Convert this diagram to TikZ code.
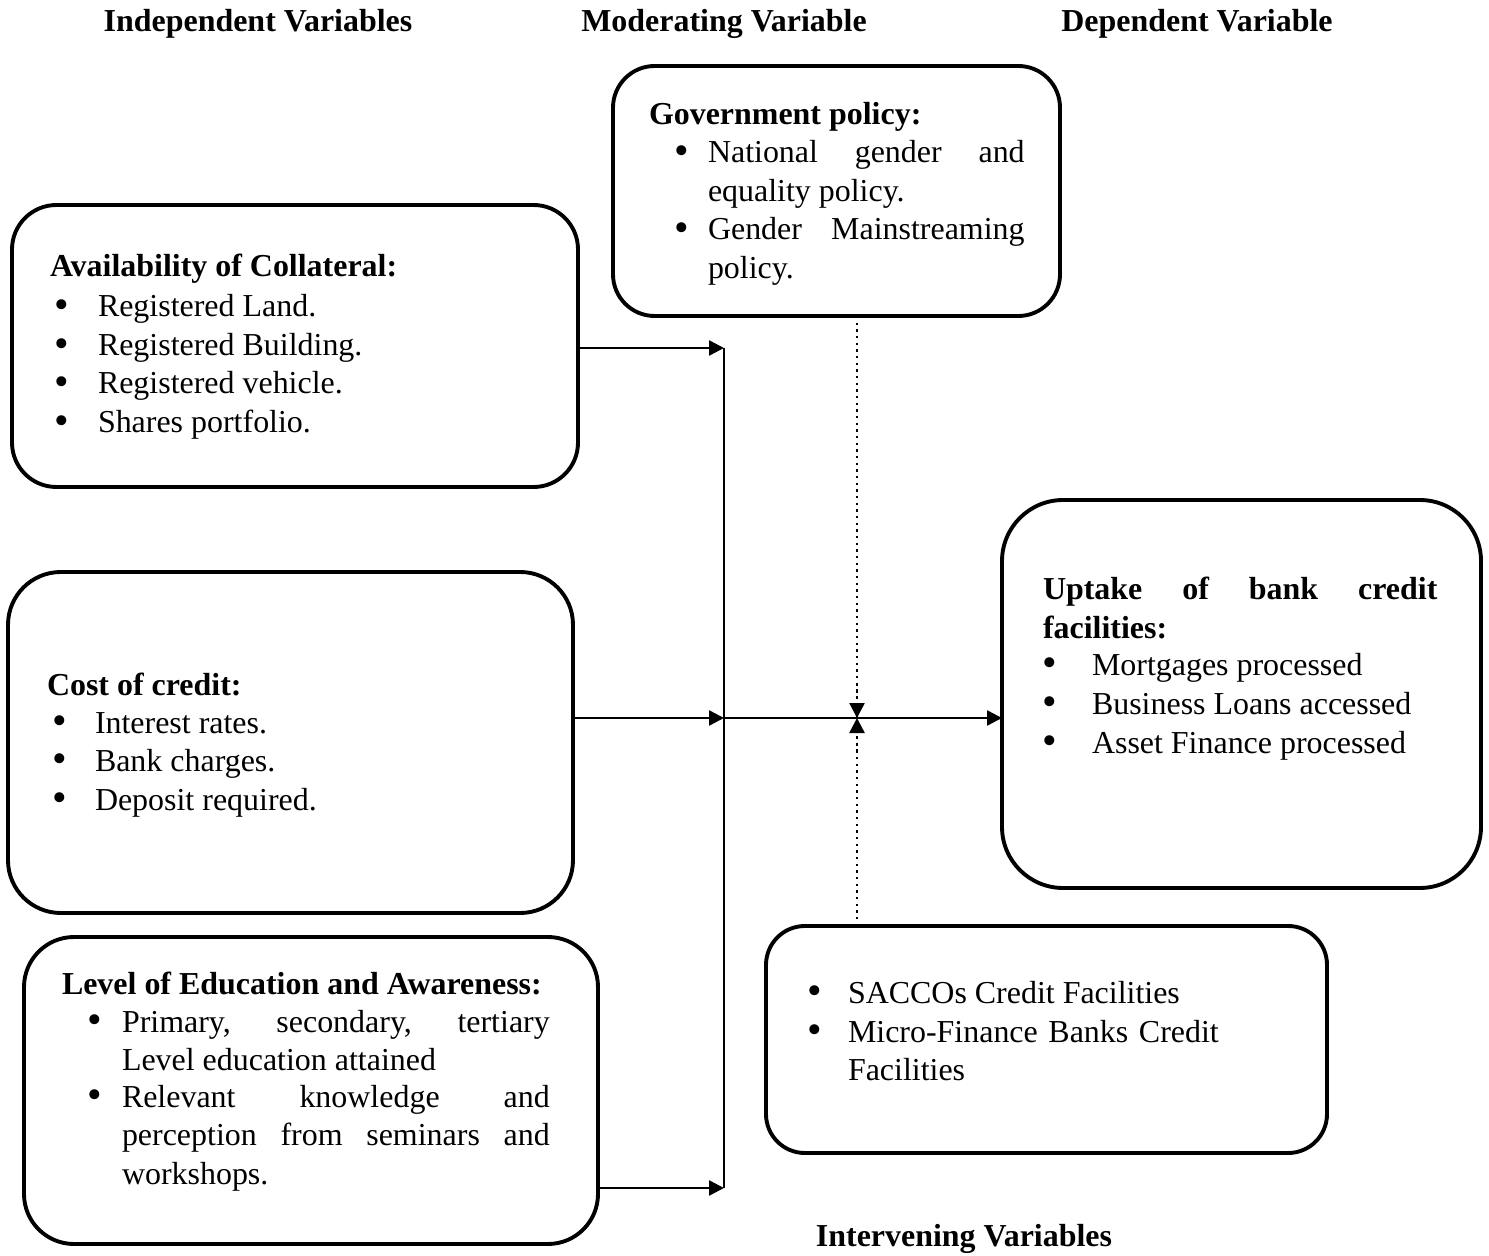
\documentclass[tikz,border=0pt]{standalone}
\usepackage{fontspec}
\setmainfont{Liberation Serif}
\usetikzlibrary{arrows.meta,fit}
\tolerance=10000
\hyphenpenalty=10000
\exhyphenpenalty=10000
\begin{document}
\begin{tikzpicture}[x=0.36pt,y=-0.36pt,
  every node/.style={inner sep=0pt,outer sep=0pt,font=\fontsize{11.5}{14}\selectfont},
  box/.style={draw,line width=1.4pt,inner sep=0pt},
  txt/.style={anchor=base west},
  hd/.style={anchor=base west,font=\fontsize{11.5}{14}\selectfont\bfseries},
  ttl/.style={anchor=base,font=\fontsize{11.5}{14}\selectfont\bfseries},
  bul/.style={anchor=base,font=\fontsize{15}{14}\selectfont,text height=6pt,text depth=0pt,yshift=-0.4pt},
  jus/.style={anchor=base west,align=justify},
  arr/.style={line width=0.9pt,-{Triangle[length=5.4pt,width=5.4pt]}},
  dots/.style={line width=0.8pt,dash pattern=on 0.8pt off 1.6pt}
]
\useasboundingbox (0,0) rectangle (1489,1256);

% titles
\node[ttl] (t1) at (258,32) {Independent Variables};
\node[ttl] (t2) at (724,32) {Moderating Variable};
\node[ttl] (t3) at (1197,32) {Dependent Variable};
\node[ttl] (t4) at (964,1246) {Intervening Variables};

% boxes
\node[box,rounded corners=16pt,fit={(12,205) (578,487)}] (coll) {};
\node[box,rounded corners=19pt,fit={(8,572) (573,913)}] (cost) {};
\node[box,rounded corners=18pt,fit={(24,937) (598,1244)}] (edu) {};
\node[box,rounded corners=15pt,fit={(613,66) (1060,316)}] (gov) {};
\node[box,rounded corners=22pt,fit={(1002,500) (1481,888)}] (upt) {};
\node[box,rounded corners=14pt,fit={(766,926) (1327,1153)}] (intv) {};

% collateral
\node[hd] (c0) at (50,277) {Availability of Collateral:};
\node[bul] (cb1) at (62,317) {•};
\node[txt] (c1) at (98,317) {Registered Land.};
\node[bul] (cb2) at (62,356) {•};
\node[txt] (c2) at (98,356) {Registered Building.};
\node[bul] (cb3) at (62,394) {•};
\node[txt] (c3) at (98,394) {Registered vehicle.};
\node[bul] (cb4) at (62,433) {•};
\node[txt] (c4) at (98,433) {Shares portfolio.};

% cost
\node[hd] (k0) at (47,695) {Cost of credit:};
\node[bul] (kb1) at (60,733) {•};
\node[txt] (k1) at (95,733) {Interest rates.};
\node[bul] (kb2) at (60,771) {•};
\node[txt] (k2) at (95,771) {Bank charges.};
\node[bul] (kb3) at (60,810) {•};
\node[txt] (k3) at (95,810) {Deposit required.};

% education
\node[hd] (e0) at (62,994) {Level of Education and Awareness:};
\node[bul] (eb1) at (95,1032) {•};
\node[jus,text width=154pt] (e1) at (122,1032) {Primary, secondary, tertiary\linebreak Level education attained};
\node[bul] (eb2) at (95,1107) {•};
\node[jus,text width=154pt] (e2) at (122,1107) {Relevant knowledge and perception from seminars and workshops.};

% government
\node[hd] (g0) at (649,125) {Government policy:};
\node[bul] (gb1) at (682,163) {•};
\node[jus,text width=114pt] (g1) at (708,163) {National gender and equality policy.};
\node[bul] (gb2) at (682,240) {•};
\node[jus,text width=114pt] (g2) at (708,240) {Gender Mainstreaming policy.};

% uptake
\node[jus,text width=142pt,font=\fontsize{11.5}{14}\selectfont\bfseries] (u0) at (1043,600) {Uptake of bank credit facilities:};
\node[bul] (ub1) at (1050,675) {•};
\node[txt] (u1) at (1092,675) {Mortgages processed};
\node[bul] (ub2) at (1050,714) {•};
\node[txt] (u2) at (1092,714) {Business Loans accessed};
\node[bul] (ub3) at (1050,753) {•};
\node[txt] (u3) at (1092,753) {Asset Finance processed};

% intervening
\node[bul] (ib1) at (815,1003) {•};
\node[txt] (i1) at (848,1003) {SACCOs Credit Facilities};
\node[bul] (ib2) at (815,1042) {•};
\node[txt,align=left,text width=150pt] (i2) at (848,1042) {Micro-Finance Banks Credit\\Facilities};

% connectors
\coordinate (j1) at (724,348);
\coordinate (j2) at (724,718);
\coordinate (j3) at (724,1188);
\coordinate (m) at (857,718);

\draw[arr] (coll.east |- j1) -- (j1);
\draw[arr] (cost.east |- j2) -- (j2);
\draw[arr] (edu.east |- j3) -- (j3);
\draw[line width=0.8pt] (j1) -- (j3);
\draw[arr] (j2) -- (upt.west |- j2);
\draw[dots] (m |- gov.south) -- ([yshift=-12pt]m);
\draw[arr] ([yshift=-5.4pt]m) -- (m);
\draw[dots] (m |- intv.north) -- ([yshift=12pt]m);
\draw[arr] ([yshift=5.4pt]m) -- (m);
\end{tikzpicture}
\end{document}
